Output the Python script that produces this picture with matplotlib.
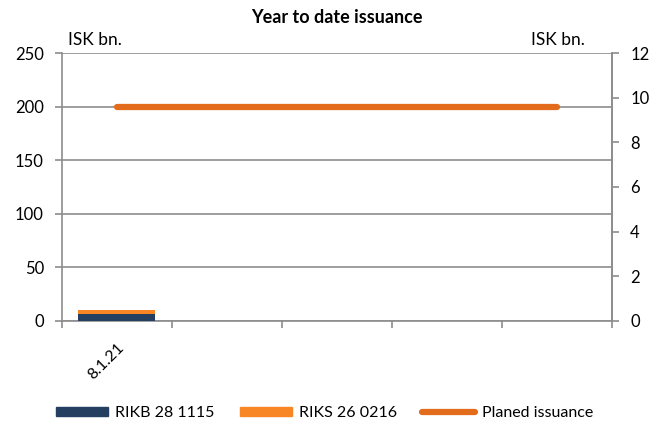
import matplotlib.pyplot as plt
import numpy as np
from matplotlib.patches import Patch
from matplotlib.lines import Line2D

plt.rcParams['font.family'] = ['Lato', 'DejaVu Sans']

dates = ['8.1.21', '', '', '', '']
rikb_28_1115 = [6.3, 0, 0, 0, 0]
riks_26_0216 = [3.6, 0, 0, 0, 0]
planned = [200, 200, 200, 200, 200]

navy = '#243F60'
orange = '#F98624'
line_orange = '#E36C1C'
grey = '#8C8C8C'

fig = plt.figure(figsize=(6.51, 4.24), dpi=100)
ax = fig.add_axes([0.0952, 0.243, 0.845, 0.632])
x = np.arange(len(dates))

ax.bar(x, rikb_28_1115, width=0.7, color=navy, zorder=3)
ax.bar(x, riks_26_0216, width=0.7, bottom=rikb_28_1115, color=orange, zorder=3)
ax.plot(x, planned, color=line_orange, lw=4.5, solid_capstyle='round', zorder=4)

ax.set_xlim(-0.5, len(dates) - 0.5)
ax.set_ylim(0, 250)
ax.set_yticks(range(0, 251, 50))
ax.yaxis.grid(True, color=grey, lw=1.2)
ax.set_axisbelow(True)
ax.set_xticks(np.arange(-0.5, len(dates), 1))
ax.set_xticklabels([])
ax.set_xticks(x, minor=True)
ax.set_xticklabels(dates, minor=True, rotation=45, ha='right', rotation_mode='anchor', fontsize=11.5)
ax.tick_params(axis='x', which='minor', length=0, pad=14)
ax.tick_params(axis='x', which='major', length=5, color=grey, width=1.2)
ax.tick_params(axis='y', length=5, color=grey, width=1.2, labelsize=12, pad=8)
for side in ['top']:
    ax.spines[side].set_visible(False)
for side in ['left', 'right', 'bottom']:
    ax.spines[side].set_color(grey)
    ax.spines[side].set_linewidth(1.2)

ax2 = ax.twinx()
ax2.set_ylim(0, 12)
ax2.set_yticks(range(0, 13, 2))
ax2.tick_params(axis='y', length=5, color=grey, width=1.2, labelsize=12, pad=8)
for side in ['top', 'left', 'bottom']:
    ax2.spines[side].set_visible(False)
ax2.spines['right'].set_color(grey)
ax2.spines['right'].set_linewidth(1.2)

fig.text(0.518, 0.958, 'Year to date issuance', ha='center', va='center', fontsize=13, fontweight='bold')
fig.text(0.104, 0.905, 'ISK bn.', ha='left', va='center', fontsize=12.5)
fig.text(0.898, 0.905, 'ISK bn.', ha='right', va='center', fontsize=12.5)

handles = [
    Patch(color=navy),
    Patch(color=orange),
    Line2D([], [], color=line_orange, lw=4.5, solid_capstyle='round'),
]
labels = ['RIKB 28 1115', 'RIKS 26 0216', 'Planed issuance']
fig.legend(handles, labels, loc='center', bbox_to_anchor=(0.498, 0.025), ncol=3, frameon=False,
           fontsize=11.5, handlelength=3.3, handleheight=0.45, columnspacing=1.6, handletextpad=0.4)

fig.savefig('out.png', dpi=100)
